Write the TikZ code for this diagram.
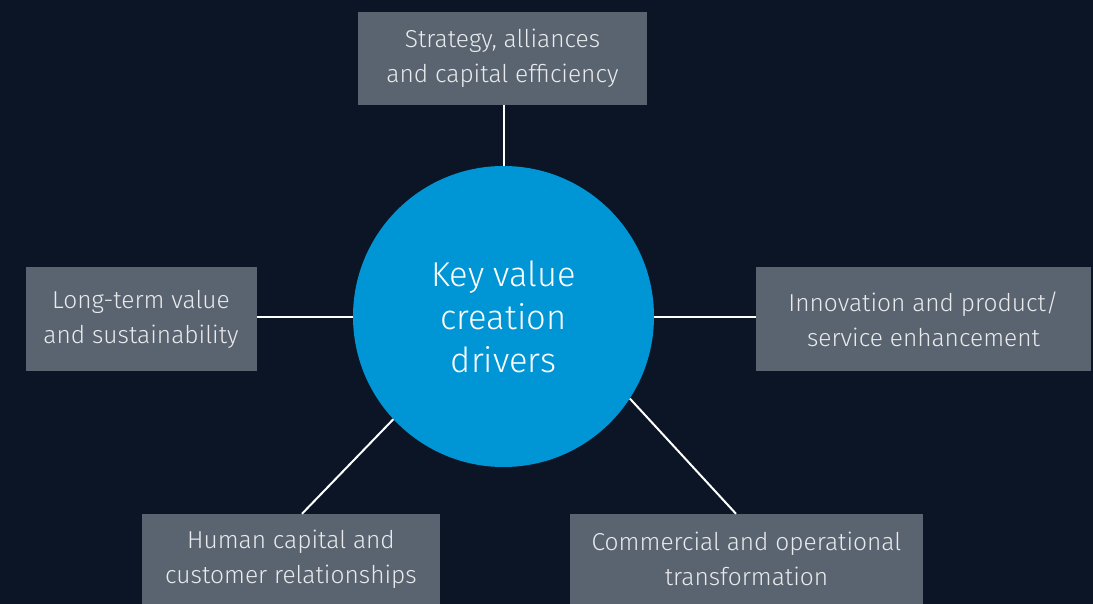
\documentclass[tikz,border=0pt]{standalone}
\usepackage{fontspec}
\setmainfont{Fira Sans}[UprightFont=* Light]
\usepackage{tikz}
\usetikzlibrary{positioning}

\definecolor{navy}{HTML}{0B1526}
\definecolor{slate}{HTML}{5A6470}
\definecolor{eyblue}{HTML}{0096D6}
\definecolor{paper}{HTML}{E8EAEC}

\begin{document}
\begin{tikzpicture}[x=1pt, y=-1pt,
  driver/.style={fill=slate, text=paper, align=center, inner sep=0pt,
    font=\fontsize{24.5}{35}\selectfont},
  hub/.style={circle, fill=eyblue, text=white, align=center, minimum size=301pt,
    inner sep=0pt, font=\fontsize{34.5}{43}\selectfont},
  link/.style={draw=white, line width=2pt}]
\fill[navy] (0,0) rectangle (1093,604);
\useasboundingbox (0,0) rectangle (1093,604);
% centre
\node[hub] (kv) at (503.5,316.5) {Key value\\creation\\drivers};
% drivers
\node[driver, minimum width=289pt, minimum height=93pt] (sa) at (502.5,58.5) {Strategy, alliances\\and capital efficiency};
\node[driver, minimum width=231pt, minimum height=104pt] (lt) at (141,319) {Long-term value\\and sustainability};
\node[driver, minimum width=335pt, minimum height=104pt] (ip) at (923.5,319) {Innovation and product/\\service enhancement};
\node[driver, minimum width=298pt, minimum height=90pt] (hc) at (291,559) {Human capital and\\customer relationships};
\node[driver, minimum width=353pt, minimum height=90pt] (ct) at (746.5,559) {Commercial and operational\\transformation};
% spokes
\draw[link] (kv.north) -- (kv.north |- sa.south);
\draw[link] (kv.west) -- (kv.west -| lt.east);
\draw[link] (kv.east) -- (kv.east -| ip.west);
\draw[link] (kv.-137.4) -- ([xshift=11pt]hc.north);
\draw[link] (kv.-33.9) -- ([xshift=-10.5pt]ct.north);
\end{tikzpicture}
\end{document}
